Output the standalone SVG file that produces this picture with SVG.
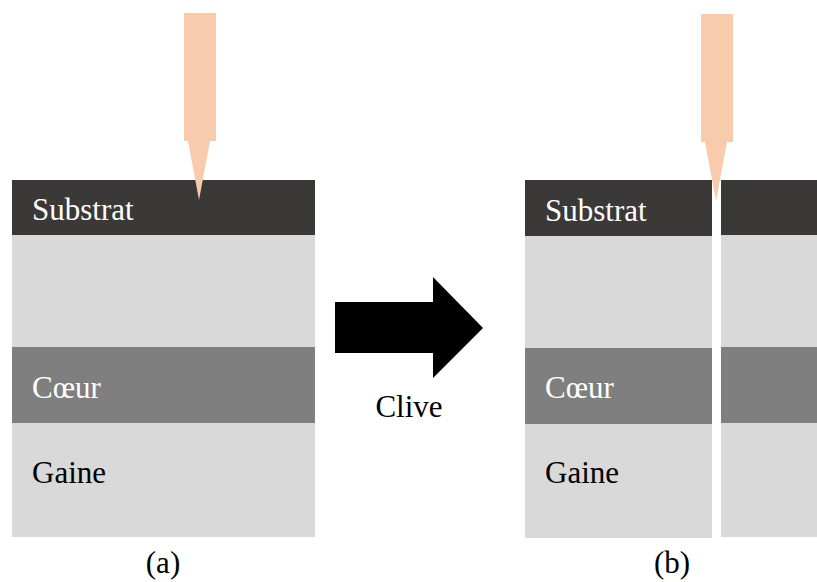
<svg xmlns="http://www.w3.org/2000/svg" width="817" height="582" viewBox="0 0 817 582">
<defs>
<polygon id="needle" points="0,0 32,0 32,128 26,128 15,187 4,128 0,128" fill="#F8CBAD"/>
</defs>
<rect width="817" height="582" fill="#FFFFFF"/>
<g id="block-a">
<rect fill="#3B3838" x="12" y="180" width="303" height="55"/>
<rect fill="#D9D9D9" x="12" y="235" width="303" height="112"/>
<rect fill="#7F7F7F" x="12" y="347" width="303" height="76"/>
<rect fill="#D9D9D9" x="12" y="423" width="303" height="114"/>
<text style="font-family:'Liberation Serif','Times New Roman',serif;font-size:31px" fill="#FFFFFF" x="32" y="220">Substrat</text>
<text style="font-family:'Liberation Serif','Times New Roman',serif;font-size:31px" fill="#FFFFFF" x="32" y="398">Cœur</text>
<text style="font-family:'Liberation Serif','Times New Roman',serif;font-size:31px" fill="#000000" x="32" y="483">Gaine</text>
</g>
<g id="needle-a">
<use href="#needle" x="184" y="13"/>
</g>
<g id="block-b-left">
<rect fill="#3B3838" x="525" y="180" width="187" height="56"/>
<rect fill="#D9D9D9" x="525" y="236" width="187" height="112"/>
<rect fill="#7F7F7F" x="525" y="348" width="187" height="76"/>
<rect fill="#D9D9D9" x="525" y="424" width="187" height="114"/>
<text style="font-family:'Liberation Serif','Times New Roman',serif;font-size:31px" fill="#FFFFFF" x="545" y="221">Substrat</text>
<text style="font-family:'Liberation Serif','Times New Roman',serif;font-size:31px" fill="#FFFFFF" x="545" y="398">Cœur</text>
<text style="font-family:'Liberation Serif','Times New Roman',serif;font-size:31px" fill="#000000" x="545" y="483">Gaine</text>
</g>
<g id="block-b-right">
<rect fill="#3B3838" x="721" y="180" width="96" height="55"/>
<rect fill="#D9D9D9" x="721" y="235" width="96" height="112"/>
<rect fill="#7F7F7F" x="721" y="347" width="96" height="76"/>
<rect fill="#D9D9D9" x="721" y="423" width="96" height="114"/>
</g>
<g id="needle-b">
<use href="#needle" x="701" y="14"/>
</g>
<g id="connectors">
<polygon fill="#000000" points="335,302 433,302 433,277 483,328 433,378 433,353 335,353"/>
<text style="font-family:'Liberation Serif','Times New Roman',serif;font-size:31px" fill="#000000" x="409" y="417" text-anchor="middle">Clive</text>
</g>
<g id="captions">
<text style="font-family:'Liberation Serif','Times New Roman',serif;font-size:31px" fill="#000000" x="163" y="573" text-anchor="middle">(a)</text>
<text style="font-family:'Liberation Serif','Times New Roman',serif;font-size:31px" fill="#000000" x="672" y="573" text-anchor="middle">(b)</text>
</g>
</svg>
